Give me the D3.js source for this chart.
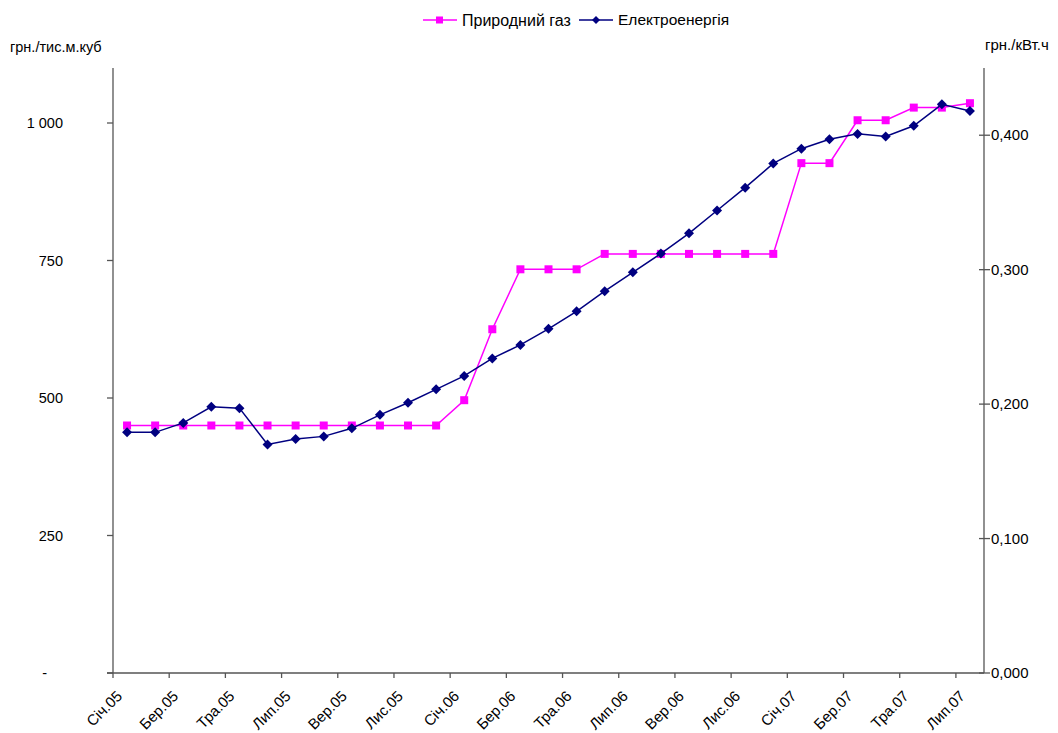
<!DOCTYPE html>
<html><head><meta charset="utf-8">
<script src="https://cdn.jsdelivr.net/npm/d3@7"></script>
<style>
body{margin:0;background:#fff;}
text{font-family:"Liberation Sans",Arial,sans-serif;fill:#000;}
</style></head>
<body><svg id="c" width="1058" height="733"></svg>
<script>
const months = ["Січ.05","Лют.05","Бер.05","Кві.05","Тра.05","Чер.05","Лип.05","Сер.05","Вер.05","Жов.05","Лис.05","Гру.05",
"Січ.06","Лют.06","Бер.06","Кві.06","Тра.06","Чер.06","Лип.06","Сер.06","Вер.06","Жов.06","Лис.06","Гру.06",
"Січ.07","Лют.07","Бер.07","Кві.07","Тра.07","Чер.07","Лип.07"];
const gas = [450,450,450,450,450,450,450,450,450,450,450,450,
496,625,734,734,734,762,762,762,762,762,762,762,
927,927,1005,1005,1028,1028,1036];
const elec = [0.179,0.179,0.186,0.198,0.197,0.170,0.174,0.176,0.182,0.192,0.201,0.211,
0.221,0.234,0.244,0.256,0.269,0.284,0.298,0.312,0.327,0.344,0.361,0.379,
0.390,0.397,0.401,0.399,0.407,0.423,0.418];
const leftTicks = [0,250,500,750,1000];
const leftTickLabels = ["-","250","500","750","1 000"];
const rightTicks = [0,0.1,0.2,0.3,0.4];
const seriesNames = ["Природний газ","Електроенергія"];
const colors = ["#FF00FF","#000080"];

const svg = d3.select("#c");
const L=113, R=984, T=68, B=673;
const x = d3.scaleBand().domain(months).range([L,R]);
const yL = d3.scaleLinear().domain([0,1100]).range([B,T]);
const yR = d3.scaleLinear().domain([0,0.45]).range([B,T]);
const cx = d => x(d)+x.bandwidth()/2;
const axisColor="#555";
const diamond = r => `M0,${-r}L${r},0L0,${r}L${-r},0Z`;

// left axis
svg.append("line").attr("x1",L).attr("x2",L).attr("y1",T).attr("y2",B).attr("stroke",axisColor).attr("stroke-width",1.3);
leftTicks.forEach((t,i)=>{
  svg.append("line").attr("x1",L-6).attr("x2",L).attr("y1",yL(t)).attr("y2",yL(t)).attr("stroke",axisColor).attr("stroke-width",1.3);
  svg.append("text").attr("x",i===0?47:63).attr("y",yL(t)).attr("dy","0.35em").attr("text-anchor","end").style("font-size","14.5px").text(leftTickLabels[i]);
});
// right axis
svg.append("line").attr("x1",R).attr("x2",R).attr("y1",T).attr("y2",B).attr("stroke",axisColor).attr("stroke-width",1.3);
rightTicks.forEach(t=>{
  svg.append("line").attr("x1",R-5).attr("x2",R+6).attr("y1",yR(t)).attr("y2",yR(t)).attr("stroke",axisColor).attr("stroke-width",1.3);
  svg.append("text").attr("x",991).attr("y",yR(t)).attr("dy","0.35em").attr("text-anchor","start").style("font-size","15px").text(d3.format(".3f")(t).replace(".",","));
});
// x axis
svg.append("line").attr("x1",L-6).attr("x2",R).attr("y1",B).attr("y2",B).attr("stroke",axisColor).attr("stroke-width",1.3);
months.forEach((m,i)=>{
  if(i%2===0){
    svg.append("line").attr("x1",x(m)).attr("x2",x(m)).attr("y1",B).attr("y2",B+5).attr("stroke",axisColor).attr("stroke-width",1.3);
    svg.append("text").attr("transform",`translate(${cx(m)-4},${B+24}) rotate(-45)`).attr("text-anchor","end").style("font-size","15px").text(m);
  }
});

// axis titles
svg.append("text").attr("x",10).attr("y",52).style("font-size","14.5px").text("грн./тис.м.куб");
svg.append("text").attr("x",985).attr("y",50).style("font-size","15px").text("грн./кВт.ч");

// gas line
const lineG = d3.line().x((d,i)=>cx(months[i])).y(d=>yL(d));
svg.append("path").datum(gas).attr("d",lineG).attr("fill","none").attr("stroke",colors[0]).attr("stroke-width",1.5);
svg.selectAll(".g").data(gas).enter().append("rect").attr("x",(d,i)=>cx(months[i])-4).attr("y",d=>yL(d)-4).attr("width",8).attr("height",8).attr("fill",colors[0]);

// elec line
const lineE = d3.line().x((d,i)=>cx(months[i])).y(d=>yR(d));
svg.append("path").datum(elec).attr("d",lineE).attr("fill","none").attr("stroke",colors[1]).attr("stroke-width",1.5);
svg.selectAll(".e").data(elec).enter().append("path").attr("d",diamond(5)).attr("transform",(d,i)=>`translate(${cx(months[i])},${yR(d)})`).attr("fill",colors[1]);

// legend
const ly=20;
svg.append("line").attr("x1",423).attr("x2",457).attr("y1",ly).attr("y2",ly).attr("stroke",colors[0]).attr("stroke-width",1.5);
svg.append("rect").attr("x",436).attr("y",ly-3.5).attr("width",7).attr("height",7).attr("fill",colors[0]);
svg.append("text").attr("x",462).attr("y",ly).attr("dy","0.35em").style("font-size","16px").text(seriesNames[0]);
svg.append("line").attr("x1",579).attr("x2",613).attr("y1",ly).attr("y2",ly).attr("stroke",colors[1]).attr("stroke-width",1.5);
svg.append("path").attr("d",diamond(4)).attr("transform",`translate(596,${ly})`).attr("fill",colors[1]);
svg.append("text").attr("x",618).attr("y",ly).attr("dy","0.35em").style("font-size","15.5px").text(seriesNames[1]);
</script></body></html>
